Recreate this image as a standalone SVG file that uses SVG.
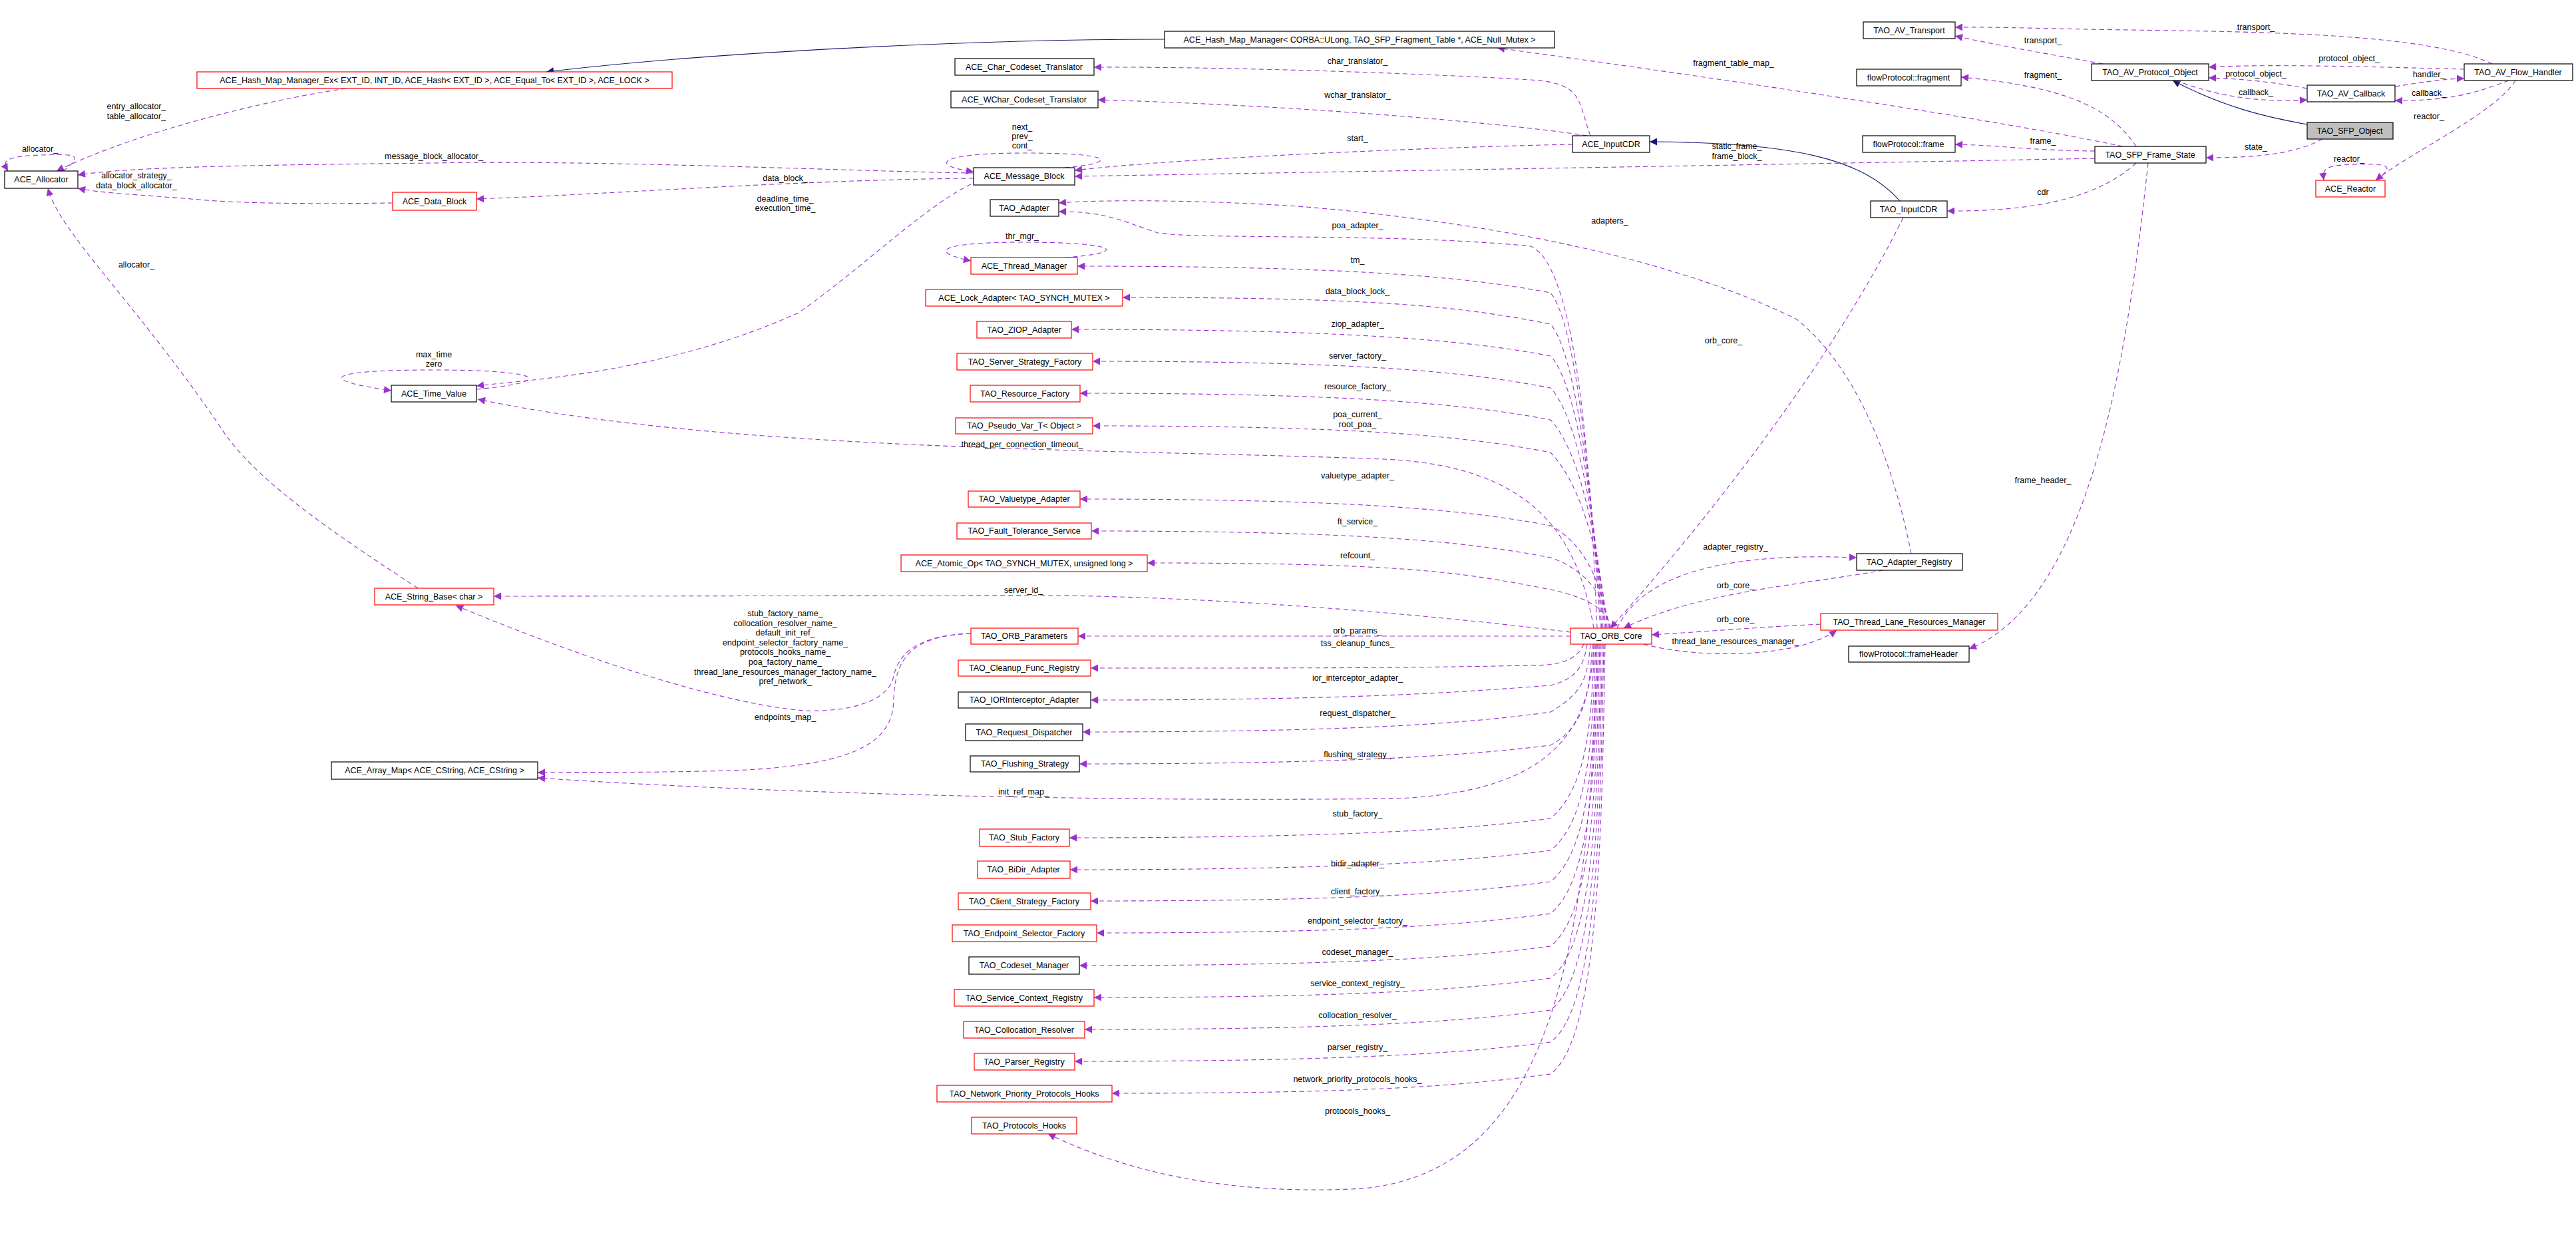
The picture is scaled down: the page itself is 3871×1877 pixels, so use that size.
<svg xmlns="http://www.w3.org/2000/svg" width="3871" height="1877" viewBox="0 0 3871 1877">
<style>
text{font-family:"Liberation Sans",Arial,sans-serif;font-size:12.5px;fill:#000}
.n rect{fill:#fff;stroke:#000;stroke-width:1.2}
.n.r rect{stroke:#f00}
.n.g rect{fill:#bfbfbf}
.n text{text-anchor:middle}
.e path{fill:none;stroke:#9a32cd;stroke-width:1.1;stroke-dasharray:7,5;marker-end:url(#pa)}
.e path.i{stroke:#191970;stroke-dasharray:none;marker-end:url(#na)}
.l text{text-anchor:middle}
</style>
<defs>
<marker id="pa" viewBox="0 0 10 10" refX="10" refY="5" markerWidth="13" markerHeight="11" markerUnits="userSpaceOnUse" orient="auto"><path d="M0,0L10,5L0,10z" fill="#9a32cd"/></marker>
<marker id="na" viewBox="0 0 10 10" refX="10" refY="5" markerWidth="13" markerHeight="11" markerUnits="userSpaceOnUse" orient="auto"><path d="M0,0L10,5L0,10z" fill="#191970"/></marker>
</defs>
<rect width="3871" height="1877" fill="#fff"/>
<g class="e" id="connectors">
<path class="i" d="M1750,59 C1500,59 1100,75 821,108"/>
<path class="i" d="M2855,302 C2800,240 2700,214 2479,213"/>
<path class="i" d="M3467,187 C3400,175 3340,160 3265,121"/>
<path d="M520,133 C400,150 200,200 85,257"/>
<path d="M95,257 C130,230 110,232 60,233 C0,235 5,245 12,257"/>
<path d="M1463,260 C1300,258 900,240 650,245 C400,248 200,250 117,263"/>
<path d="M590,305 C450,307 350,305 300,300 C200,292 150,290 117,283"/>
<path d="M1463,268 C1200,270 900,293 716,299"/>
<path d="M1470,272 C1400,300 1300,400 1200,470 C1000,560 800,570 716,580"/>
<path d="M716,585 C830,575 830,556 650,556 C480,556 480,572 588,587"/>
<path d="M2395,944 C2370,800 2300,700 2080,690 C1700,675 1100,680 718,600"/>
<path d="M628,884 C500,800 380,720 330,640 C200,450 90,350 72,283"/>
<path d="M1600,252 C1680,245 1680,230 1540,230 C1400,230 1400,250 1463,258"/>
<path d="M1600,387 C1700,380 1680,364 1540,364 C1400,364 1400,380 1459,392"/>
<path d="M2363,217 C2200,220 1800,235 1615,256"/>
<path d="M2390,204 C2370,150 2380,125 2300,120 C2100,108 1800,100 1644,101"/>
<path d="M2385,204 C2300,190 2000,160 1650,150"/>
<path d="M3148,238 C2800,245 2200,255 1615,265"/>
<path d="M3190,220 C3000,180 2600,120 2250,72"/>
<path d="M2872,832 C2850,720 2800,560 2700,480 C2500,380 2200,330 1950,310 C1800,300 1650,300 1591,305"/>
<path d="M2400,944 C2390,700 2370,400 2300,370 C2100,350 1800,360 1740,350 C1680,330 1660,318 1591,318"/>
<path d="M2860,327 C2750,550 2550,800 2420,944"/>
<path d="M3745,96 C3650,50 3400,48 3200,45 C3100,44 3000,40 2938,41"/>
<path d="M3160,96 C3100,85 3000,68 2938,54"/>
<path d="M3703,104 C3550,100 3400,96 3319,101"/>
<path d="M3467,133 C3400,120 3350,118 3319,117"/>
<path d="M3599,130 C3650,122 3680,118 3703,118"/>
<path d="M3270,121 C3320,140 3380,155 3467,150"/>
<path d="M3770,121 C3720,140 3680,152 3599,151"/>
<path d="M3780,121 C3750,170 3620,230 3570,271"/>
<path d="M3570,271 C3600,250 3590,245 3540,247 C3490,248 3490,255 3492,271"/>
<path d="M3490,209 C3450,230 3400,237 3315,237"/>
<path d="M3210,220 C3170,160 3100,130 2947,116"/>
<path d="M3148,227 C3050,226 3000,218 2938,217"/>
<path d="M3210,245 C3150,300 3050,318 2926,317"/>
<path d="M3228,245 C3200,500 3150,900 2959,975"/>
<path d="M2430,944 C2470,860 2600,830 2790,838"/>
<path d="M2830,857 C2700,880 2550,890 2440,944"/>
<path d="M2736,938 C2650,942 2550,950 2482,954"/>
<path d="M2470,968 C2550,990 2700,990 2760,947"/>
<path d="M2360,950 C2200,930 1900,900 1600,895 L742,896"/>
<path d="M2360,956 L1620,956"/>
<path d="M1459,952 C1380,955 1350,980 1342,1020 C1330,1060 1260,1070 1210,1068 C1100,1060 900,1000 685,910"/>
<path d="M1459,952 C1370,955 1345,990 1343,1050 C1342,1110 1300,1150 1100,1158 C950,1162 850,1160 808,1161"/>
<path d="M2395,968 C2390,1100 2330,1190 2100,1200 C1700,1205 1200,1195 808,1169"/>
<path d="M2405,944 C2400,880 2380,500 2330,440 C2200,415 2019,400 1619,400"/>
<path d="M2407,944 C2402,880 2380,545 2330,487 C2200,462 2087,447 1687,447"/>
<path d="M2409,944 C2404,880 2382,590 2330,535 C2200,510 2010,495 1610,495"/>
<path d="M2411,944 C2406,880 2384,640 2330,583 C2200,558 2042,543 1642,543"/>
<path d="M2413,944 C2408,880 2386,690 2330,631 C2200,606 2023,591 1623,591"/>
<path d="M2415,944 C2410,880 2388,740 2330,680 C2200,655 2042,640 1642,640"/>
<path d="M2417,944 C2412,900 2390,820 2330,790 C2200,765 2023,750 1623,750"/>
<path d="M2419,944 C2414,910 2395,860 2330,838 C2200,813 2040,798 1640,798"/>
<path d="M2421,944 C2416,920 2395,900 2330,886 C2200,861 2124,846 1724,846"/>
<path d="M2380,968 C2370,990 2350,1000 2300,1000 C2100,1004 2000,1004 1639,1004"/>
<path d="M2385,968 C2380,1000 2370,1020 2330,1030 C2200,1040 2039,1052 1639,1052"/>
<path d="M2390,968 C2385,1020 2380,1040 2330,1070 C2200,1088 2027,1100 1627,1100"/>
<path d="M2393,968 C2388,1040 2384,1090 2330,1120 C2200,1136 2022,1148 1622,1148"/>
<path d="M2396,968 C2391,1080 2388,1180 2330,1230 C2200,1247 2007,1259 1607,1259"/>
<path d="M2398,968 C2393,1100 2390,1230 2330,1278 C2200,1295 2008,1307 1608,1307"/>
<path d="M2400,968 C2395,1120 2392,1275 2330,1325 C2200,1342 2039,1354 1639,1354"/>
<path d="M2402,968 C2397,1140 2394,1320 2330,1373 C2200,1390 2048,1402 1648,1402"/>
<path d="M2404,968 C2399,1160 2396,1370 2330,1422 C2200,1439 2022,1451 1622,1451"/>
<path d="M2406,968 C2401,1180 2398,1420 2330,1470 C2200,1487 2044,1499 1644,1499"/>
<path d="M2408,968 C2403,1200 2400,1465 2330,1518 C2200,1535 2030,1547 1630,1547"/>
<path d="M2410,968 C2405,1220 2402,1515 2330,1566 C2200,1583 2015,1595 1615,1595"/>
<path d="M2412,968 C2407,1240 2404,1560 2330,1614 C2200,1631 2071,1643 1671,1643"/>
<path d="M2400,968 C2390,1500 2300,1760 2050,1786 C1800,1800 1650,1740 1575,1704"/>
</g>
<g class="l" id="labels">
<text x="205" y="164">entry_allocator_</text><text x="205" y="179">table_allocator_</text>
<text x="60" y="228">allocator_</text>
<text x="652" y="239">message_block_allocator_</text>
<text x="205" y="268">allocator_strategy_</text><text x="205" y="283">data_block_allocator_</text>
<text x="1180" y="272">data_block_</text>
<text x="1180" y="303">deadline_time_</text><text x="1180" y="317">execution_time_</text>
<text x="652" y="537">max_time</text><text x="652" y="551">zero</text>
<text x="1536" y="672">thread_per_connection_timeout_</text>
<text x="205" y="402">allocator_</text>
<text x="1536" y="195">next_</text><text x="1536" y="209">prev_</text><text x="1536" y="223">cont_</text>
<text x="1536" y="359">thr_mgr_</text>
<text x="2040" y="96">char_translator_</text>
<text x="2040" y="147">wchar_translator_</text>
<text x="2040" y="212">start_</text>
<text x="2040" y="343">poa_adapter_</text>
<text x="2419" y="336">adapters_</text>
<text x="2605" y="99">fragment_table_map_</text>
<text x="2610" y="224">static_frame_</text><text x="2610" y="239">frame_block_</text>
<text x="2590" y="516">orb_core_</text>
<text x="3390" y="45">transport_</text>
<text x="3070" y="65">transport_</text>
<text x="3530" y="92">protocol_object_</text>
<text x="3390" y="115">protocol_object_</text>
<text x="3650" y="116">handler_</text>
<text x="3390" y="143">callback_</text>
<text x="3650" y="144">callback_</text>
<text x="3650" y="179">reactor_</text>
<text x="3530" y="243">reactor_</text>
<text x="3070" y="117">fragment_</text>
<text x="3070" y="216">frame_</text>
<text x="3390" y="225">state_</text>
<text x="3070" y="293">cdr</text>
<text x="3070" y="726">frame_header_</text>
<text x="2608" y="826">adapter_registry_</text>
<text x="2608" y="884">orb_core_</text>
<text x="2608" y="935">orb_core_</text>
<text x="2608" y="968">thread_lane_resources_manager_</text>
<text x="1538" y="891">server_id_</text>
<text x="1180" y="926">stub_factory_name_</text>
<text x="1180" y="941">collocation_resolver_name_</text>
<text x="1180" y="955">default_init_ref_</text>
<text x="1180" y="970">endpoint_selector_factory_name_</text>
<text x="1180" y="984">protocols_hooks_name_</text>
<text x="1180" y="999">poa_factory_name_</text>
<text x="1180" y="1014">thread_lane_resources_manager_factory_name_</text>
<text x="1180" y="1028">pref_network_</text>
<text x="1180" y="1082">endpoints_map_</text>
<text x="1538" y="1194">init_ref_map_</text>
<text x="2040" y="395">tm_</text>
<text x="2040" y="442">data_block_lock_</text>
<text x="2040" y="491">ziop_adapter_</text>
<text x="2040" y="539">server_factory_</text>
<text x="2040" y="585">resource_factory_</text>
<text x="2040" y="627">poa_current_</text><text x="2040" y="642">root_poa_</text>
<text x="2040" y="719">valuetype_adapter_</text>
<text x="2040" y="788">ft_service_</text>
<text x="2040" y="839">refcount_</text>
<text x="2040" y="952">orb_params_</text>
<text x="2040" y="971">tss_cleanup_funcs_</text>
<text x="2040" y="1023">ior_interceptor_adapter_</text>
<text x="2040" y="1076">request_dispatcher_</text>
<text x="2040" y="1138">flushing_strategy_</text>
<text x="2040" y="1227">stub_factory_</text>
<text x="2040" y="1302">bidir_adapter_</text>
<text x="2040" y="1344">client_factory_</text>
<text x="2040" y="1388">endpoint_selector_factory_</text>
<text x="2040" y="1435">codeset_manager_</text>
<text x="2040" y="1482">service_context_registry_</text>
<text x="2040" y="1530">collocation_resolver_</text>
<text x="2040" y="1578">parser_registry_</text>
<text x="2040" y="1626">network_priority_protocols_hooks_</text>
<text x="2040" y="1674">protocols_hooks_</text>
</g>
<g class="n" id="n_alloc"><rect x="7" y="257" width="110" height="26"/><text x="62" y="274">ACE_Allocator</text></g>
<g class="n r" id="n_hmex"><rect x="296" y="108" width="714" height="25"/><text x="653" y="125">ACE_Hash_Map_Manager_Ex&lt; EXT_ID, INT_ID, ACE_Hash&lt; EXT_ID &gt;, ACE_Equal_To&lt; EXT_ID &gt;, ACE_LOCK &gt;</text></g>
<g class="n r" id="n_datablock"><rect x="590" y="289" width="126" height="27"/><text x="653" y="307">ACE_Data_Block</text></g>
<g class="n" id="n_timevalue"><rect x="588" y="579" width="128" height="25"/><text x="652" y="596">ACE_Time_Value</text></g>
<g class="n r" id="n_strbase"><rect x="563" y="884" width="179" height="25"/><text x="652" y="901">ACE_String_Base&lt; char &gt;</text></g>
<g class="n" id="n_arraymap"><rect x="498" y="1145" width="310" height="26"/><text x="653" y="1162">ACE_Array_Map&lt; ACE_CString, ACE_CString &gt;</text></g>
<g class="n" id="n_hmm"><rect x="1750" y="47" width="586" height="25"/><text x="2043" y="64">ACE_Hash_Map_Manager&lt; CORBA::ULong, TAO_SFP_Fragment_Table *, ACE_Null_Mutex &gt;</text></g>
<g class="n" id="n_char"><rect x="1435" y="88" width="209" height="25"/><text x="1539" y="105">ACE_Char_Codeset_Translator</text></g>
<g class="n" id="n_wchar"><rect x="1429" y="137" width="221" height="25"/><text x="1539" y="154">ACE_WChar_Codeset_Translator</text></g>
<g class="n" id="n_msgblock"><rect x="1463" y="252" width="152" height="26"/><text x="1539" y="269">ACE_Message_Block</text></g>
<g class="n" id="n_adapter"><rect x="1488" y="300" width="103" height="25"/><text x="1539" y="317">TAO_Adapter</text></g>
<g class="n r" id="n_thrmgr"><rect x="1459" y="387" width="160" height="25"/><text x="1539" y="404">ACE_Thread_Manager</text></g>
<g class="n r" id="n_lock"><rect x="1391" y="435" width="296" height="25"/><text x="1539" y="452">ACE_Lock_Adapter&lt; TAO_SYNCH_MUTEX &gt;</text></g>
<g class="n r" id="n_ziop"><rect x="1468" y="483" width="142" height="25"/><text x="1539" y="500">TAO_ZIOP_Adapter</text></g>
<g class="n r" id="n_ssf"><rect x="1438" y="531" width="204" height="25"/><text x="1540" y="548">TAO_Server_Strategy_Factory</text></g>
<g class="n r" id="n_rf"><rect x="1458" y="579" width="165" height="25"/><text x="1540" y="596">TAO_Resource_Factory</text></g>
<g class="n r" id="n_pv"><rect x="1436" y="628" width="206" height="24"/><text x="1539" y="644">TAO_Pseudo_Var_T&lt; Object &gt;</text></g>
<g class="n r" id="n_vt"><rect x="1455" y="738" width="168" height="24"/><text x="1539" y="754">TAO_Valuetype_Adapter</text></g>
<g class="n r" id="n_ft"><rect x="1438" y="786" width="202" height="24"/><text x="1539" y="802">TAO_Fault_Tolerance_Service</text></g>
<g class="n r" id="n_atomic"><rect x="1354" y="834" width="370" height="25"/><text x="1539" y="851">ACE_Atomic_Op&lt; TAO_SYNCH_MUTEX, unsigned long &gt;</text></g>
<g class="n r" id="n_orbp"><rect x="1459" y="944" width="161" height="24"/><text x="1539" y="960">TAO_ORB_Parameters</text></g>
<g class="n r" id="n_cleanup"><rect x="1440" y="992" width="199" height="24"/><text x="1539" y="1008">TAO_Cleanup_Func_Registry</text></g>
<g class="n" id="n_ior"><rect x="1440" y="1040" width="199" height="24"/><text x="1539" y="1056">TAO_IORInterceptor_Adapter</text></g>
<g class="n" id="n_rd"><rect x="1451" y="1088" width="176" height="25"/><text x="1539" y="1105">TAO_Request_Dispatcher</text></g>
<g class="n" id="n_fs"><rect x="1458" y="1136" width="164" height="24"/><text x="1540" y="1152">TAO_Flushing_Strategy</text></g>
<g class="n r" id="n_stub"><rect x="1472" y="1246" width="135" height="26"/><text x="1539" y="1263">TAO_Stub_Factory</text></g>
<g class="n r" id="n_bidir"><rect x="1469" y="1294" width="139" height="26"/><text x="1538" y="1311">TAO_BiDir_Adapter</text></g>
<g class="n r" id="n_csf"><rect x="1440" y="1342" width="199" height="25"/><text x="1539" y="1359">TAO_Client_Strategy_Factory</text></g>
<g class="n r" id="n_esf"><rect x="1431" y="1390" width="217" height="25"/><text x="1539" y="1407">TAO_Endpoint_Selector_Factory</text></g>
<g class="n" id="n_cm"><rect x="1456" y="1438" width="166" height="26"/><text x="1539" y="1455">TAO_Codeset_Manager</text></g>
<g class="n r" id="n_scr"><rect x="1434" y="1487" width="210" height="25"/><text x="1539" y="1504">TAO_Service_Context_Registry</text></g>
<g class="n r" id="n_cr"><rect x="1448" y="1535" width="182" height="25"/><text x="1539" y="1552">TAO_Collocation_Resolver</text></g>
<g class="n r" id="n_pr"><rect x="1464" y="1583" width="151" height="25"/><text x="1539" y="1600">TAO_Parser_Registry</text></g>
<g class="n r" id="n_npph"><rect x="1408" y="1631" width="263" height="25"/><text x="1539" y="1648">TAO_Network_Priority_Protocols_Hooks</text></g>
<g class="n r" id="n_ph"><rect x="1460" y="1679" width="158" height="25"/><text x="1539" y="1696">TAO_Protocols_Hooks</text></g>
<g class="n" id="n_acecdr"><rect x="2363" y="204" width="116" height="25"/><text x="2421" y="221">ACE_InputCDR</text></g>
<g class="n r" id="n_orbcore"><rect x="2360" y="944" width="122" height="24"/><text x="2421" y="960">TAO_ORB_Core</text></g>
<g class="n" id="n_avt"><rect x="2800" y="33" width="138" height="25"/><text x="2869" y="50">TAO_AV_Transport</text></g>
<g class="n" id="n_frag"><rect x="2790" y="104" width="157" height="25"/><text x="2868" y="121">flowProtocol::fragment</text></g>
<g class="n" id="n_apo"><rect x="3143" y="96" width="176" height="25"/><text x="3231" y="113">TAO_AV_Protocol_Object</text></g>
<g class="n" id="n_afh"><rect x="3703" y="96" width="163" height="25"/><text x="3784" y="113">TAO_AV_Flow_Handler</text></g>
<g class="n" id="n_acb"><rect x="3467" y="128" width="132" height="25"/><text x="3533" y="145">TAO_AV_Callback</text></g>
<g class="n g" id="n_sfpobj"><rect x="3467" y="184" width="129" height="25"/><text x="3531" y="201">TAO_SFP_Object</text></g>
<g class="n" id="n_frame"><rect x="2799" y="204" width="139" height="25"/><text x="2868" y="221">flowProtocol::frame</text></g>
<g class="n" id="n_fstate"><rect x="3148" y="220" width="167" height="25"/><text x="3231" y="237">TAO_SFP_Frame_State</text></g>
<g class="n r" id="n_reactor"><rect x="3480" y="271" width="104" height="25"/><text x="3532" y="288">ACE_Reactor</text></g>
<g class="n" id="n_taocdr"><rect x="2811" y="302" width="115" height="25"/><text x="2868" y="319">TAO_InputCDR</text></g>
<g class="n" id="n_areg"><rect x="2790" y="832" width="159" height="25"/><text x="2869" y="849">TAO_Adapter_Registry</text></g>
<g class="n r" id="n_tlrm"><rect x="2736" y="922" width="266" height="25"/><text x="2869" y="939">TAO_Thread_Lane_Resources_Manager</text></g>
<g class="n" id="n_fh"><rect x="2778" y="971" width="181" height="24"/><text x="2868" y="987">flowProtocol::frameHeader</text></g>
</svg>
